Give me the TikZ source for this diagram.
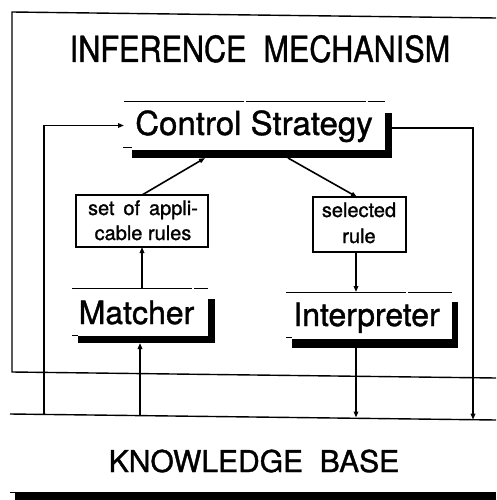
\documentclass[tikz,border=0pt]{standalone}
\usepackage{fontspec}
\setmainfont{TeX Gyre Heros}[FakeBold=1.2]
\usetikzlibrary{arrows.meta,calc}

\tikzset{
  frame/.style={line width=1.4pt},
  conn/.style={line width=1.6pt},
  arr/.style={conn,-{Triangle[length=6pt,width=4.5pt]}},
  topline/.style={line width=0.8pt, dash pattern=on 120pt off 2pt},
  area/.style={inner sep=0pt, outer sep=0pt, draw=none},
  rulebox/.style={draw, line width=1.6pt, inner sep=0pt, outer sep=0pt, fill=white},
  shade/.style={fill=black, draw=none},
  big/.style={font=\fontsize{32}{36}\selectfont},
  small/.style={font=\fontsize{20}{25}\selectfont, align=center}
}

\begin{document}
\begin{tikzpicture}[x=1pt, y=-1pt]
\useasboundingbox (0,0) rectangle (496,500);

% inference mechanism frame (open on the right)
\draw[frame] (496,18) -- (12,12) -- (12,372) -- (496,378);
\node[anchor=base] (title) at (260,62)
  {\scalebox{0.85}[1]{\fontsize{36}{40}\selectfont INFERENCE\ \ MECHANISM}};

% knowledge base frame
\draw[frame] (10,414) -- (496,420);
\fill (15,492) rectangle (496,500);
\draw[line width=0.6pt] (10,492) -- (15,492);
\node[anchor=base] (kbtext) at (254,472)
  {\fontsize{30}{34}\selectfont KNOWLEDGE\ \ BASE};

% control strategy
\node[area, minimum width=261pt, minimum height=49pt] (cs) at (254.5,125.5) {};
\node[anchor=base, font=\fontsize{33}{36}\selectfont] (cstext) at (254,135) {Control Strategy};
\draw[topline] (cs.north west) -- (cs.north east);
\fill[shade] ($(cs.south west)+(8,0)$) rectangle ($(cs.south east)+(7,8)$);
\fill[shade] ($(cs.north east)+(0,12)$) rectangle ($(cs.south east)+(7,8)$);
\draw[line width=0.6pt] ($(cs.south west)+(-1,-3)$) -- ($(cs.south west)+(8,-3)$);

% matcher
\node[area, minimum width=136pt, minimum height=48pt] (mt) at (140,312) {};
\node[anchor=base, big] (mttext) at (136.5,324) {Matcher};
\draw[topline] (mt.north west) -- (mt.north east);
\fill[shade] ($(mt.south west)+(6,0)$) rectangle ($(mt.south east)+(7,7)$);
\fill[shade] ($(mt.north east)+(0,11)$) rectangle ($(mt.south east)+(7,7)$);
\draw[line width=0.6pt] ($(mt.south west)+(0,-1)$) -- ($(mt.south west)+(6,-1)$);

% interpreter
\node[area, minimum width=166pt, minimum height=47pt] (ip) at (369,315.5) {};
\node[anchor=base, big] (iptext) at (366.5,326) {Interpreter};
\draw[topline] (ip.north west) -- (ip.north east);
\fill[shade] ($(ip.south west)+(6,0)$) rectangle ($(ip.south east)+(6,9)$);
\fill[shade] ($(ip.north east)+(0,10)$) rectangle ($(ip.south east)+(6,9)$);
\draw[line width=0.6pt] ($(ip.south west)+(0,-2)$) -- ($(ip.south west)+(6,-2)$);

% rule boxes
\node[rulebox, minimum width=132pt, minimum height=52pt] (set) at (142,221) {};
\node[anchor=base, small] at (143,215) {set\ \,of\ \,appli-};
\node[anchor=base, small] at (143,240) {cable rules};

\node[rulebox, minimum width=93pt, minimum height=55pt] (sel) at (359.5,224.5) {};
\node[anchor=base, small] at (359,217) {selected};
\node[anchor=base, small] at (359,243) {rule};

% connector end points on the knowledge base line
\coordinate (kbleft)  at (44,414.4);
\coordinate (kbmatch) at (140,415.5);
\coordinate (kbinter) at (356,417.5);
\coordinate (kbright) at (473,419.7);

% connectors
\draw[arr] (kbleft) |- (cs.west);
\draw[arr] ($(cs.east)+(7,2.5)$) -| (kbright);
\draw[arr] (set.north) -- ($(cs.south)+(-49.5,8)$);
\draw[arr] ($(cs.south)+(33.5,8)$) -- ($(sel.north)+(-2.5,0)$);
\draw[arr] (set.south |- mt.north) -- (set.south);
\draw[arr] ($(sel.south)+(-3.5,0)$) -- ($(sel.south |- ip.north)+(-3.5,0)$);
\draw[arr] (kbmatch) -- ($(mt.south)+(0,7)$);
\draw[arr] ($(ip.south)+(-13,9)$) -- (kbinter);
\end{tikzpicture}
\end{document}
